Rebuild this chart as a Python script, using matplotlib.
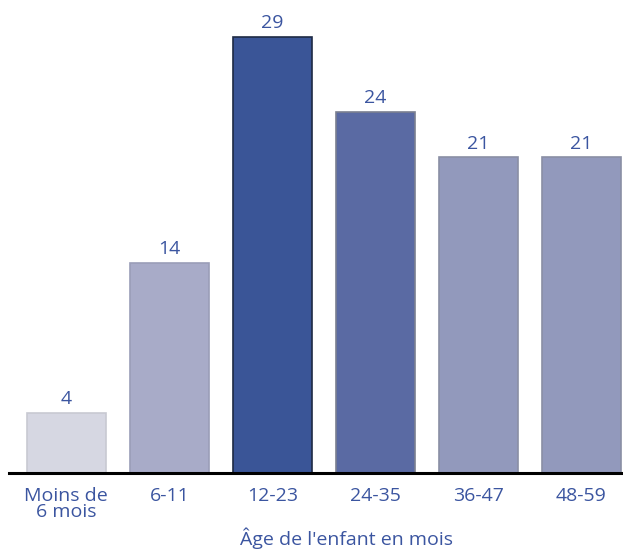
import matplotlib.pyplot as plt

categories = ["Moins de\n6 mois", "6-11", "12-23", "24-35", "36-47", "48-59"]
values = [4, 14, 29, 24, 21, 21]
colors = ["#D6D7E2", "#A8ABC8", "#3A5597", "#5A6AA3", "#9299BC", "#9299BC"]
edges = ["#C8C9D2", "#9A9DB8", "#1E2A44", "#7A7F90", "#8A8FA4", "#8A8FA4"]
text_color = "#3B55A0"

plt.rcParams["font.family"] = ["Open Sans", "DejaVu Sans"]

fig = plt.figure(figsize=(6.23, 5.49), dpi=100)
ax = fig.add_axes([9 / 623, 76 / 549, 614 / 623, 473 / 549])

x = range(len(values))
ax.bar(x, values, width=0.77, color=colors, edgecolor=edges, linewidth=1.2, zorder=2)

for xi, v in zip(x, values):
    ax.annotate(str(v), (xi, v), xytext=(0, 3.5), textcoords="offset points",
                ha="center", va="bottom", fontsize=14, color=text_color)

ax.set_xlim(-0.557, 5.405)
ax.set_ylim(0, 31.47)
ax.set_xticks(list(x))
ax.set_xticklabels(categories, fontsize=14, color=text_color, linespacing=0.9)
ax.tick_params(axis="x", length=0, pad=10)
ax.set_yticks([])
for s in ["top", "right", "left"]:
    ax.spines[s].set_visible(False)
ax.spines["bottom"].set_linewidth(2.2)
ax.spines["bottom"].set_zorder(3)

# axis title sits low, under the middle of the bars
fig.text(347 / 623, 0, "Âge de l'enfant en mois", ha="center", va="bottom",
         fontsize=14, color=text_color)

fig.savefig("out.png", dpi=100)
